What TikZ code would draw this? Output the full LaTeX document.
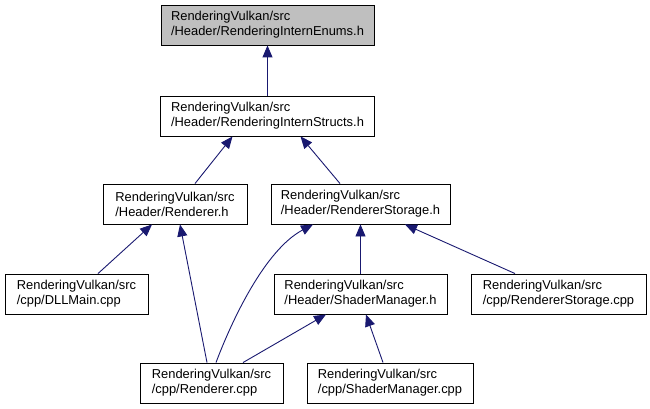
\documentclass[tikz,border=0pt]{standalone}
\usepackage{fontspec}
\setmainfont{Liberation Sans}
\usetikzlibrary{arrows.meta}

\begin{document}
\begin{tikzpicture}[x=1pt,y=-1pt,
    file/.style={draw=black,line width=0.9pt,minimum height=40pt,align=left,inner sep=0pt,font=\fontsize{12.9}{15}\selectfont},
    incl/.style={draw=navy1,line width=0.9pt,-{Triangle[length=12pt,width=10pt]}}]
\definecolor{navy1}{RGB}{25,25,112}
\definecolor{grey1}{RGB}{191,191,191}
\useasboundingbox (0,0) rectangle (650,409);
    \node[file,fill=grey1,minimum width=213pt] (enums) at (267.5,25) {RenderingVulkan/src\\/Header/RenderingInternEnums.h};
    \node[file,minimum width=214pt] (structs) at (267.5,116) {RenderingVulkan/src\\/Header/RenderingInternStructs.h};
    \node[file,minimum width=144pt] (rendh) at (175,204) {RenderingVulkan/src\\/Header/Renderer.h};
    \node[file,minimum width=179pt] (storh) at (360.5,204) {RenderingVulkan/src\\/Header/RendererStorage.h};
    \node[file,minimum width=143pt] (dllmain) at (76.5,294) {RenderingVulkan/src\\/cpp/DLLMain.cpp};
    \node[file,minimum width=173pt] (shadh) at (360.5,294) {RenderingVulkan/src\\/Header/ShaderManager.h};
    \node[file,minimum width=175pt] (storcpp) at (558.5,294) {RenderingVulkan/src\\/cpp/RendererStorage.cpp};
    \node[file,minimum width=143pt] (rendcpp) at (211.5,383) {RenderingVulkan/src\\/cpp/Renderer.cpp};
    \node[file,minimum width=166pt] (shadcpp) at (390,383) {RenderingVulkan/src\\/cpp/ShaderManager.cpp};
    \draw[incl] (structs.north) -- (enums.south);
    \draw[incl] ([xshift=20pt]rendh.north) -- ([xshift=-35pt]structs.south);
    \draw[incl] ([xshift=-20.5pt]storh.north) -- ([xshift=33pt]structs.south);
    \draw[incl] ([xshift=21.5pt]dllmain.north) -- ([xshift=-23pt]rendh.south);
    \draw[incl] ([xshift=-4.5pt]rendcpp.north) -- ([xshift=5pt]rendh.south);
    \draw[incl] ([xshift=4.5pt]rendcpp.north) .. controls (232,320) and (265,250) .. ([xshift=-47.5pt]storh.south);
    \draw[incl] (shadh.north) -- (storh.south);
    \draw[incl] ([xshift=-43.5pt]storcpp.north) -- ([xshift=44.5pt]storh.south);
    \draw[incl] ([xshift=31.5pt]rendcpp.north) -- ([xshift=-34.5pt]shadh.south);
    \draw[incl] ([xshift=-7pt]shadcpp.north) -- ([xshift=5.5pt]shadh.south);
\end{tikzpicture}
\end{document}
